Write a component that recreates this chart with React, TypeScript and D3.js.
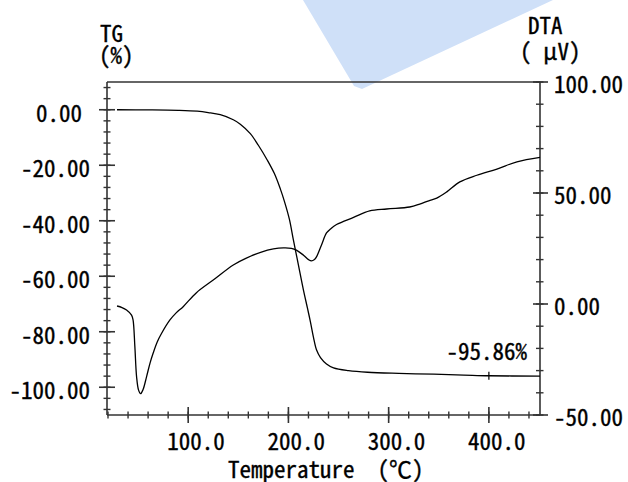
import React from 'react'
import * as d3 from 'd3'

// TG curve (temperature in °C, mass change in %)
const tgTemp = [29, 60, 90, 109, 120, 132, 145, 152, 162, 170, 179, 186, 192, 196, 201, 205, 210, 215, 219, 222, 225, 228, 232, 238, 245, 260, 279, 310, 345, 375, 400, 451]
const tgValue = [0, -0.05, -0.2, -0.5, -1.0, -1.8, -3.6, -5.2, -8.6, -12.8, -18.2, -23, -28.6, -33, -39.5, -47, -56, -65, -71.5, -76.5, -82, -86.5, -89.3, -91.6, -93, -94, -94.6, -95, -95.3, -95.6, -95.86, -96.0]

// DTA curve (temperature in °C, signal in µV)
const dtaTemp = [29, 34, 38.5, 43.5, 45, 46.8, 48.5, 50.5, 52.5, 55, 58.5, 62, 65, 69, 73.5, 81.8, 88, 95, 108, 125, 145, 158, 173, 185, 195, 203, 208, 215, 220, 223, 226, 228, 233, 238, 242, 248, 265, 281, 298, 321, 331, 340, 348, 358, 371, 388, 408, 428, 451]
const dtaValue = [-0.9, -1.6, -2.7, -5, -7.2, -19.2, -32.7, -38.8, -40.4, -38.5, -32.7, -26.5, -22.2, -17.2, -13.2, -7.2, -4, -1.2, 5, 10.8, 17.6, 20.7, 23.4, 24.8, 25.3, 25.1, 24.3, 22, 20, 19.4, 20, 21.2, 26.6, 32, 33.8, 35.8, 39, 41.9, 42.8, 43.7, 45, 46.5, 47.7, 50.5, 55, 58, 60.8, 64, 66]

const tempTicks = [100, 200, 300, 400]
const tempLabels = ['100.0', '200.0', '300.0', '400.0']
const tgTicks = [0, -20, -40, -60, -80, -100]
const tgLabels = ['0.00', '-20.00', '-40.00', '-60.00', '-80.00', '-100.00']
const dtaTicks = [100, 50, 0, -50]
const dtaLabels = ['100.00', '50.00', '0.00', '-50.00']

const markTemp = 400
const markValue = -95.86
const markLabel = '-95.86%'

const W = 628
const H = 482
const left = 107
const right = 540
const top = 82
const bottom = 415
const font = "'Noto Sans Mono CJK JP', 'Noto Sans CJK JP', sans-serif"

export default function App() {
  const x = d3.scaleLinear().domain([19, 451]).range([left, right])
  const yTg = d3.scaleLinear().domain([-110, 10]).range([bottom, top])
  const yDta = d3.scaleLinear().domain([-50, 100]).range([bottom, top])

  const tgLine = d3.line<number>()
    .x((d, i) => x(tgTemp[i]))
    .y(d => yTg(d))
    .curve(d3.curveCatmullRom.alpha(0.5))
  const dtaLine = d3.line<number>()
    .x((d, i) => x(dtaTemp[i]))
    .y(d => yDta(d))
    .curve(d3.curveCatmullRom.alpha(0.5))

  const tgMinor = d3.range(-108, 10, 4)
  const dtaMinor = d3.range(-50, 101, 10)
  const tempMinor = d3.range(20, 451, 20)
  const axisColor = '#333'

  return (
    <svg width={W} height={H} style={{ position: 'absolute', left: 0, top: 0, background: '#fff' }}
      fontFamily={font} fontSize={23} fill="#000">
      {/* watermark */}
      <polygon points="303,0 354,86 362,89 553,0" fill="#cfe0f8" />

      {/* frame */}
      <line x1={left} x2={right} y1={top} y2={top} stroke={axisColor} strokeWidth={1.6} />
      <line x1={left} x2={right} y1={bottom} y2={bottom} stroke={axisColor} strokeWidth={1.6} />
      <line x1={left} x2={left} y1={top} y2={bottom} stroke={axisColor} strokeWidth={1.6} />
      <line x1={right} x2={right} y1={top} y2={bottom} stroke={axisColor} strokeWidth={1.6} />

      {/* TG axis ticks */}
      {tgMinor.map(v => (
        <line key={'tm' + v} x1={left - 3.5} x2={left + 3.5} y1={yTg(v)} y2={yTg(v)} stroke={axisColor} strokeWidth={1.4} />
      ))}
      {tgTicks.map((v, i) => (
        <line key={'tg' + v} x1={left - 8} x2={left + 8} y1={yTg(v)} y2={yTg(v)} stroke={axisColor} strokeWidth={1.6} />
      ))}

      {/* DTA axis ticks */}
      {dtaMinor.map(v => (
        <line key={'dm' + v} x1={right - 4} x2={right + 3.5} y1={yDta(v)} y2={yDta(v)} stroke={axisColor} strokeWidth={1.4} />
      ))}
      {dtaTicks.map(v => (
        <line key={'dt' + v} x1={right - 7} x2={right + 8} y1={yDta(v)} y2={yDta(v)} stroke={axisColor} strokeWidth={1.6} />
      ))}

      {/* temperature axis ticks */}
      {tempMinor.map(v => (
        <line key={'xm' + v} x1={x(v)} x2={x(v)} y1={bottom - 3.5} y2={bottom + 3.5} stroke={axisColor} strokeWidth={1.4} />
      ))}
      {tempTicks.map(v => (
        <line key={'xt' + v} x1={x(v)} x2={x(v)} y1={bottom - 8} y2={bottom + 8} stroke={axisColor} strokeWidth={1.6} />
      ))}

      {/* curves */}
      <path d={tgLine(tgValue) || ''} fill="none" stroke="#000" strokeWidth={1.3} />
      <path d={dtaLine(dtaValue) || ''} fill="none" stroke="#000" strokeWidth={1.3} />

      {/* residual mass marker */}
      <line x1={x(markTemp)} x2={x(markTemp)} y1={yTg(markValue) - 4} y2={yTg(markValue) + 4} stroke="#000" strokeWidth={1.2} />

      {/* all texts, slightly heavier strokes */}
      <g stroke="#000" strokeWidth={0.35}>
        {tgTicks.map((v, i) => (
          <text key={'tgl' + v} x={v === 0 ? 82 : 90} y={yTg(v) + 2} textAnchor="end" dominantBaseline="central">{tgLabels[i]}</text>
        ))}
        {dtaTicks.map((v, i) => (
          <text key={'dtl' + v} x={554} y={yDta(v) + 1} dominantBaseline="central">{dtaLabels[i]}</text>
        ))}
        {tempTicks.map((v, i) => (
          <text key={'xtl' + v} x={x(v) - 21} y={450}>{tempLabels[i]}</text>
        ))}
        <text x={527} y={360} textAnchor="end">{markLabel}</text>
        <text x={100} y={42}>TG</text>
        <text x={99} y={64}>(%)</text>
        <text x={528} y={34}>DTA</text>
        <text x={520} y={60} style={{ whiteSpace: 'pre' }}>{'( μV)'}</text>
        <text x={228} y={478} style={{ whiteSpace: 'pre' }}>{'Temperature  (℃)'}</text>
      </g>
    </svg>
  )
}
